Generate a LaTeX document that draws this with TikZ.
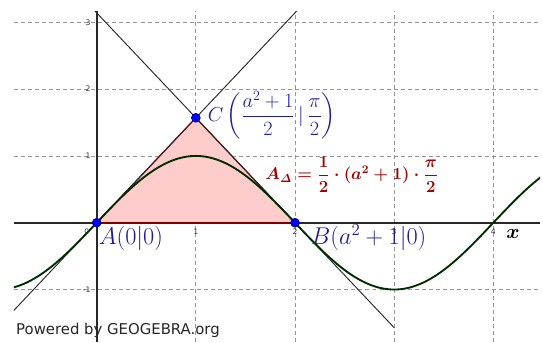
\documentclass[tikz,border=0pt]{standalone}
\usepackage{amsmath,amssymb}
\usepackage{fontspec}
\setsansfont{DejaVu Sans}
\usepackage{tikz}
\usetikzlibrary{calc}

\definecolor{gridgray}{RGB}{150,150,150}
\definecolor{axisgray}{RGB}{40,40,40}
\definecolor{curvegreen}{RGB}{0,45,0}
\definecolor{sidered}{RGB}{130,0,0}
\definecolor{areapink}{RGB}{255,204,204}
\definecolor{labelblue}{RGB}{30,30,150}
\definecolor{labelred}{RGB}{160,0,0}
\definecolor{pointblue}{RGB}{0,0,110}

\begin{document}
\begin{tikzpicture}[
    x=2.9745cm, y=2.004cm,
    gridline/.style={draw=gridgray, line width=0.6pt, dash pattern=on 3.4pt off 2.6pt},
    axisline/.style={draw=axisgray, line width=1.5pt},
    tangent/.style={draw=axisgray, line width=0.8pt},
    graph/.style={draw=curvegreen, line width=1.6pt},
    side/.style={draw=sidered, line width=1pt},
    ptdot/.style={circle, fill=blue, draw=pointblue, line width=0.6pt, inner sep=0pt, minimum size=7.5pt},
    ticklabel/.style={font=\sffamily\fontsize{6.5}{7}\selectfont, text=black!80, inner sep=0pt},
    ptlabel/.style={text=labelblue, inner sep=0pt, font=\fontsize{20}{24}\selectfont}
]
\useasboundingbox (-0.975,-1.786) rectangle (4.501,3.334);

% Points of the triangle
\coordinate (a) at (0,0);
\coordinate (b) at (2,0);
\coordinate (c) at (1,{pi/2});

\begin{scope}
\clip (-0.834,-1.786) rectangle (4.471,3.169);

% Grid
\foreach \gx in {1,2,3,4}
    \draw[gridline] (\gx,-1.786) -- (\gx,3.169);
\foreach \gy in {-1,1,2,3}
    \draw[gridline] (-0.834,\gy) -- (4.471,\gy);

% Triangle area
\fill[areapink] (a) -- (b) -- (c) -- cycle;

% Axes
\draw[axisline] (-0.834,0) -- (4.471,0);
\draw[axisline] (0,-1.786) -- (0,3.169);

\draw[side] (a) -- (b) -- (c) -- cycle;

% Tangents through C
\draw[tangent] ($(a)!-1!(c)$) -- ($(a)!2.2!(c)$);
\draw[tangent] ($(b)!-1!(c)$) -- ($(b)!2.2!(c)$);

% Sine curve
\draw[graph, domain=-0.9:4.5, samples=200, smooth] plot (\x, {sin(90*\x)});
\end{scope}

% Tick labels
\node[ticklabel] (tickx0) at (-0.1,-0.14) {0};
\foreach \k in {1,2,3,4}
    \node[ticklabel] (tickx\k) at (\k,-0.14) {\k};
\foreach \k in {-1,1,2,3}
    \node[ticklabel, anchor=east] (ticky\k) at (-0.06,\k) {\k};
\node[inner sep=0pt, font=\fontsize{18}{20}\selectfont\boldmath] (labelx) at (4.2,-0.17) {$x$};

% Points
\node[ptdot] (pointa) at (a) {};
\node[ptdot] (pointb) at (b) {};
\node[ptdot] (pointc) at (c) {};

% Labels
\node[ptlabel, anchor=north west] (labela) at (0.02,-0.05) {$A(0|0)$};
\node[ptlabel, anchor=north west] (labelb) at (2.16,-0.03) {$B(a^2+1|0)$};
\node[text=labelblue, inner sep=0pt, anchor=west, font=\fontsize{16.5}{19}\selectfont] (labelc) at (1.12,1.61) {$C\left(\dfrac{a^2+1}{2}\,|\,\dfrac{\pi}{2}\right)$};
\node[text=labelred, inner sep=0pt, anchor=west, font=\fontsize{13.7}{17}\selectfont\boldmath] (labelarea) at (1.70,0.72) {$A_{\varDelta}=\dfrac{1}{2}\cdot(a^2+1)\cdot\dfrac{\pi}{2}$};

\node[anchor=south west, inner sep=0pt, font=\sffamily\fontsize{12.7}{14}\selectfont, text=black!85] (powered) at (-0.814,-1.728) {Powered by GEOGEBRA.org};

\end{tikzpicture}
\end{document}
